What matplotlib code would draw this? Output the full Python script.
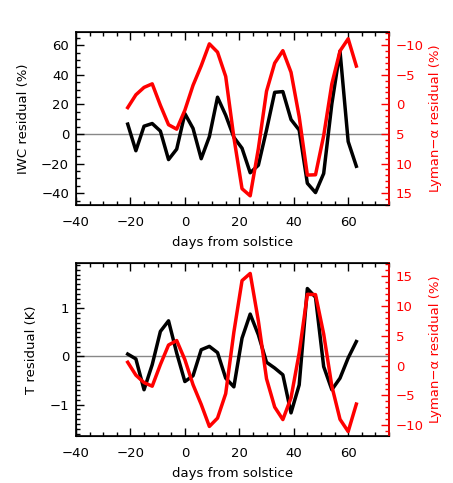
import numpy as np
import matplotlib
matplotlib.use("Agg")
import matplotlib.pyplot as plt
from matplotlib.ticker import MultipleLocator

plt.rcParams['font.family'] = ['DejaVu Sans']
plt.rcParams['axes.unicode_minus'] = True

days = np.arange(-21, 64, 3)

iwc = [6.7, -11.3, 5.3, 7.1, 2.0, -17.3, -10.2, 13.8, 3.8, -16.7,
       -1.8, 24.9, 12.7, -2.2, -9.6, -26.2, -21.1, 2.7, 28.2, 28.7,
       9.8, 2.7, -33.3, -39.6, -26.7, 20.4, 56.0, -5.1, -21.8]

temp = [0.05, -0.05, -0.69, -0.17, 0.52, 0.74, 0.07, -0.52, -0.40, 0.14,
        0.21, 0.08, -0.45, -0.63, 0.38, 0.88, 0.45, -0.12, -0.24, -0.38,
        -1.17, -0.59, 1.41, 1.23, -0.21, -0.69, -0.45, -0.03, 0.31]

lyman = [0.56, -1.6, -2.85, -3.45, 0.17, 3.45, 4.2, 1.0, -3.2, -6.5,
         -10.2, -8.8, -4.7, 5.6, 14.25, 15.45, 7.5, -2.2, -6.95, -9.05,
         -5.4, 2.1, 11.95, 11.9, 5.3, -3.45, -9.0, -11.05, -6.45]

W, H = 453, 483
fig = plt.figure(figsize=(W/100, H/100), dpi=100)

FS = 9.5
RED = '#ff0000'

def style_left(ax, ymaj, ymin):
    ax.set_xlim(-40, 75)
    ax.xaxis.set_major_locator(MultipleLocator(20))
    ax.xaxis.set_minor_locator(MultipleLocator(5))
    ax.yaxis.set_major_locator(MultipleLocator(ymaj))
    ax.yaxis.set_minor_locator(MultipleLocator(ymin))
    ax.tick_params(which='both', direction='in', top=True, right=False,
                   labelsize=FS, width=1.0)
    ax.tick_params(which='major', length=6)
    ax.tick_params(which='minor', length=3)
    ax.tick_params(axis='x', which='major', pad=8)
    ax.tick_params(axis='y', which='major', pad=5)
    for s in ax.spines.values():
        s.set_linewidth(1.2)
    ax.set_xlabel('days from solstice', fontsize=FS, labelpad=5)

def style_right(ax2):
    ax2.yaxis.set_major_locator(MultipleLocator(5))
    ax2.yaxis.set_minor_locator(MultipleLocator(1))
    ax2.tick_params(which='both', direction='in', colors=RED, labelsize=FS, width=1.0)
    ax2.tick_params(which='major', length=6, pad=5)
    ax2.tick_params(which='minor', length=3)
    ax2.spines['right'].set_color(RED)
    ax2.spines['right'].set_linewidth(1.2)
    ax2.set_ylabel('Lyman\u2212\u03b1 residual (%)', color=RED, fontsize=FS, labelpad=4)

# top panel
ax1 = fig.add_axes([76/W, 1-205/H, (389-76)/W, (205-32)/H])
ax1.axhline(0, color='#888888', lw=1.0, zorder=1)
ax1.plot(days, iwc, color='black', lw=2.5, zorder=3)
ax1.set_ylim(-48, 69)
style_left(ax1, 20, 5)
ax1.set_ylabel('IWC residual (%)', fontsize=FS, labelpad=8)
ax1b = ax1.twinx()
ax1b.plot(days, lyman, color=RED, lw=2.5, zorder=4)
ax1b.set_ylim(17, -12.2)
style_right(ax1b)

# bottom panel
ax2 = fig.add_axes([76/W, 1-436/H, (389-76)/W, (436-263)/H])
ax2.axhline(0, color='#888888', lw=1.0, zorder=1)
ax2.plot(days, temp, color='black', lw=2.5, zorder=3)
ax2.set_ylim(-1.65, 1.94)
style_left(ax2, 1, 0.1)
ax2.set_ylabel('T residual (K)', fontsize=FS, labelpad=8)
ax2b = ax2.twinx()
ax2b.plot(days, lyman, color=RED, lw=2.5, zorder=4)
ax2b.set_ylim(-11.8, 17.2)
style_right(ax2b)

fig.savefig('out.png', dpi=100)
